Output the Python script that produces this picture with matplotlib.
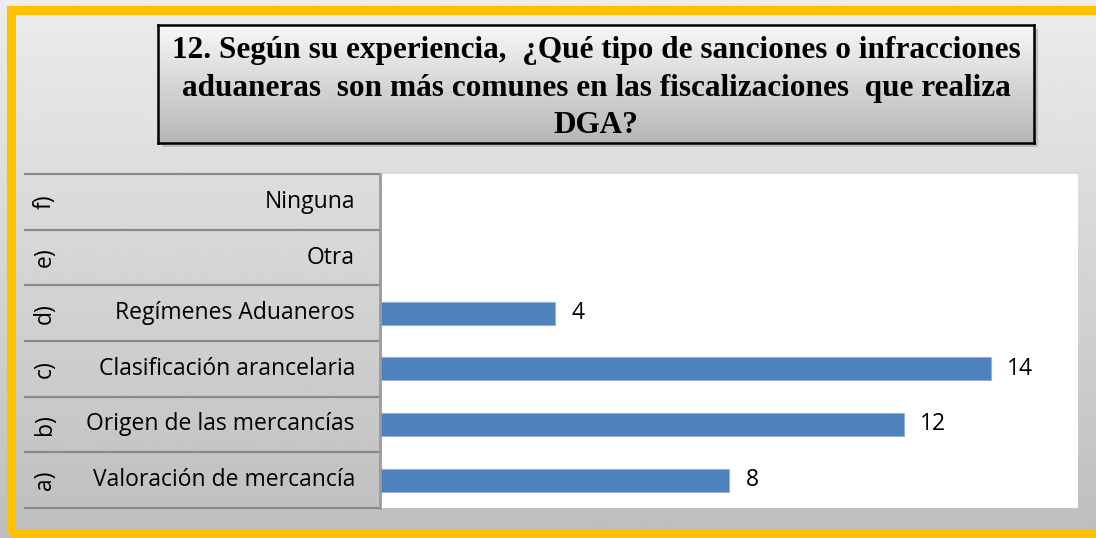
import matplotlib.pyplot as plt
import matplotlib.transforms as mtransforms
from matplotlib.patches import Rectangle
import numpy as np

# data (bottom to top)
letters = ["a)", "b)", "c)", "d)", "e)", "f)"]
categories = ["Valoración de mercancía", "Origen de las mercancías",
              "Clasificación arancelaria", "Regímenes Aduaneros", "Otra", "Ninguna"]
values = [8, 12, 14, 4, None, None]
title_lines = ["12. Según su experiencia,  ¿Qué tipo de sanciones o infracciones",
               "aduaneras  son más comunes en las fiscalizaciones  que realiza",
               "DGA?"]

W, H = 1096, 538
fig = plt.figure(figsize=(W / 100, H / 100), dpi=100)

def fx(px):
    return px / W

def fy(py):
    return 1 - py / H

# background gradient
bg = fig.add_axes([0, 0, 1, 1])
grad = np.linspace(0.925, 0.745, 256).reshape(-1, 1)
bg.imshow(grad, cmap="gray", vmin=0, vmax=1, aspect="auto", extent=[0, 1, 0, 1])
bg.set_xlim(0, 1)
bg.set_ylim(0, 1)
bg.axis("off")

# gold frame
gold = "#FFC000"
fig.patches.append(Rectangle((fx(11), fy(534)), fx(W + 20), (534 - 10) / H, transform=fig.transFigure,
                             fill=False, edgecolor=gold, linewidth=6.5, zorder=10))

# title box with shadow
bx0, bx1, by0, by1 = 158, 1034, 25, 143
fig.patches.append(Rectangle((fx(bx0 + 4), fy(by1 + 4)), fx(bx1 - bx0), (by1 - by0) / H,
                             transform=fig.transFigure, facecolor="#9a9a9a", edgecolor="none",
                             alpha=0.5, zorder=1))
tax = fig.add_axes([fx(bx0), fy(by1), fx(bx1 - bx0), (by1 - by0) / H], zorder=2)
tgrad = np.linspace(0.97, 0.71, 256).reshape(-1, 1)
tax.imshow(tgrad, cmap="gray", vmin=0, vmax=1, aspect="auto", extent=[0, 1, 0, 1])
tax.set_xticks([])
tax.set_yticks([])
for s in tax.spines.values():
    s.set_linewidth(1.8)
    s.set_color("black")
for i, line in enumerate(title_lines):
    tax.text(0.5, 0.78 - i * 0.315, line, ha="center", va="center", fontsize=22.5,
             fontweight="bold", family="Liberation Serif", transform=tax.transAxes)

# main plot area
px0, px1, py0, py1 = 380, 1078, 174, 508
ax = fig.add_axes([fx(px0), fy(py1), fx(px1 - px0), (py1 - py0) / H], zorder=3)
ax.set_facecolor("white")
ypos = np.arange(len(categories))
bar_vals = [v if v is not None else 0 for v in values]
ax.barh(ypos, bar_vals, height=0.41, color="#4F81BD", edgecolor="#95B3D7", linewidth=0.8)
for y, v in zip(ypos, values):
    if v is not None:
        ax.text(v + 0.38, y, str(v), va="center", ha="left", fontsize=16.5, family="Open Sans")
ax.set_xlim(0, 16)
ax.set_ylim(-0.5, len(categories) - 0.5)
ax.set_xticks([])
ax.set_yticks([])
for s in ["top", "right", "bottom"]:
    ax.spines[s].set_visible(False)
ax.spines["left"].set_color("#9a9a9a")
ax.spines["left"].set_linewidth(2)

# category table on the left
trans = mtransforms.blended_transform_factory(fig.transFigure, ax.transData)
for y in list(ypos - 0.5) + [len(categories) - 0.5]:
    ax.plot([fx(24), fx(px0)], [y, y], color="#8a8a8a", linewidth=1.6, transform=trans,
            clip_on=False, solid_capstyle="butt")
for y, lt, cat in zip(ypos, letters, categories):
    ax.text(fx(45), y, lt, rotation=90, ha="center", va="center", fontsize=16.5,
            family="Open Sans", transform=trans)
    ax.text(fx(355), y, cat, ha="right", va="center", fontsize=16.5,
            family="Open Sans", transform=trans)

fig.savefig("out.png", dpi=100)
